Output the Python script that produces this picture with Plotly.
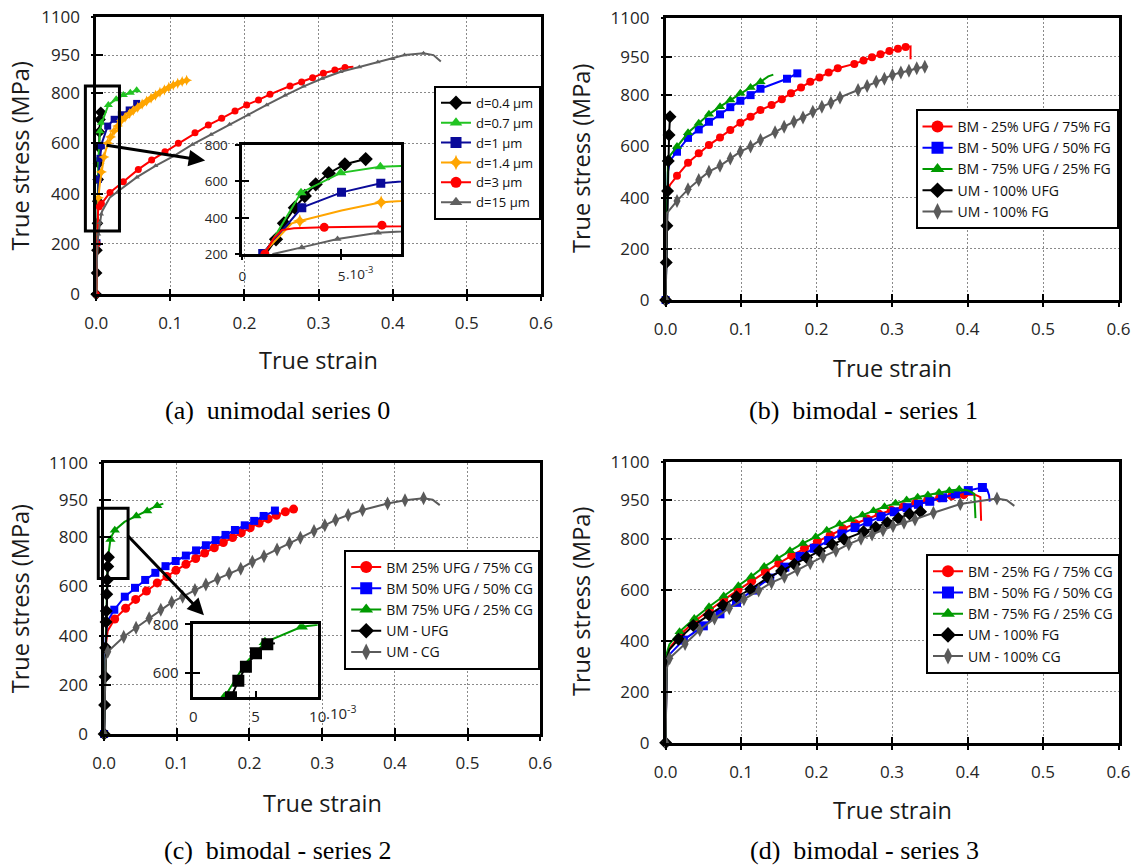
import plotly.graph_objects as go

W, H = 1134, 867
FONT = "Open Sans"
SERIF = "Liberation Serif"
TICK_COLOR = "#262626"

# ---------------------------------------------------------------- axes / ticks
STRAIN_TICKS = [0.0, 0.1, 0.2, 0.3, 0.4, 0.5, 0.6]
STRESS_TICKS = [0, 200, 400, 600, 800, 950, 1100]
STRAIN_RANGE = [0, 0.6]
STRESS_RANGE = [0, 1100]

INSET_A_X_TICKS = [0, 0.005]
INSET_A_X_TEXT = ["0", "5"]
INSET_A_Y_TICKS = [200, 400, 600, 800]
INSET_A_X_RANGE = [0, 0.008]
INSET_A_Y_RANGE = [200, 800]

INSET_C_X_TICKS = [0, 0.005, 0.01]
INSET_C_X_TEXT = ["0", "5", "10"]
INSET_C_Y_TICKS = [600, 800]
INSET_C_X_RANGE = [0, 0.01]
INSET_C_Y_RANGE = [500, 800]
SCALE_SUFFIX = ".10<sup>-3</sup>"

# ------------------------------------------------ (a) unimodal series 0
A_LABELS = ["d=0.4 μm", "d=0.7 μm", "d=1 μm", "d=1.4 μm", "d=3 μm", "d=15 μm"]
A04_STRAIN = [0, 0.0005, 0.001, 0.0017, 0.0021, 0.00265, 0.00315, 0.0037, 0.00436, 0.00517, 0.00622]
A04_STRESS = [0, 85, 175, 282, 370, 456, 520, 584, 645, 694, 723]
A04_MARKS = list(range(0, 11))

A07_STRAIN = [0, 0.0011, 0.00296, 0.00496, 0.00696, 0.008, 0.0164, 0.027, 0.0366, 0.046, 0.0546]
A07_STRESS = [0, 200, 538, 647, 681, 685, 752, 775, 791, 800, 810]
A07_MARKS = [2, 3, 4, 6, 7, 8, 9, 10]

A1_STRAIN = [0, 0.00103, 0.003, 0.005, 0.00698, 0.008, 0.0155, 0.0242, 0.0339, 0.0445, 0.0546]
A1_STRESS = [0, 205, 456, 540, 590, 604, 668, 695, 713, 732, 758]
A1_MARKS = [1, 2, 3, 4, 6, 7, 8, 9, 10]

A14_STRAIN = [0, 0.001, 0.0025, 0.0029, 0.005, 0.007, 0.008, 0.0105, 0.0155, 0.0195, 0.024, 0.029,
              0.034, 0.039, 0.045, 0.05, 0.056, 0.062, 0.068, 0.074, 0.08, 0.086, 0.092, 0.098,
              0.104, 0.11, 0.116, 0.122, 0.1244]
A14_STRESS = [0, 200, 370, 383, 440, 486, 493, 545, 600, 625, 648, 668, 690, 703, 718, 730, 742,
              755, 767, 779, 790, 802, 812, 822, 831, 838, 845, 850, 852]
A14_MARKS = [3, 5] + list(range(7, 28))

A3_STRAIN = [0, 0.00114, 0.0016, 0.002, 0.0026, 0.00413, 0.00704, 0.012, 0.0186, 0.0366, 0.0568,
             0.0748, 0.0928, 0.1108, 0.1333, 0.1513, 0.1693, 0.1873, 0.203, 0.219, 0.2345, 0.2615,
             0.2772, 0.292, 0.3065, 0.322, 0.3357, 0.347]
A3_STRESS = [0, 202, 290, 333, 343, 348, 360, 380, 404, 447, 496, 533, 566, 600, 642, 672, 699, 728,
             752, 772, 794, 827, 843, 860, 878, 891, 901, 904]
A3_MARKS = [0, 1, 5, 6] + list(range(8, 27))

A15_STRAIN = [0, 0.00156, 0.003, 0.0048, 0.00684, 0.008, 0.0186, 0.03, 0.055, 0.08, 0.105, 0.13,
              0.155, 0.18, 0.205, 0.23, 0.255, 0.28, 0.305, 0.33, 0.355, 0.38, 0.40, 0.416, 0.4416,
              0.455, 0.465]
A15_STRESS = [0, 202, 238, 284, 318, 330, 385, 410, 465, 510, 550, 595, 635, 675, 712, 752, 790,
              826, 857, 884, 903, 922, 935, 950, 957, 950, 924]
A15_MARKS = [2, 3, 4] + list(range(7, 25))

# ------------------------------------------------ (b) bimodal - series 1
B_LABELS = ["BM - 25% UFG / 75% FG", "BM - 50% UFG / 50% FG", "BM - 75% UFG / 25% FG",
            "UM - 100% UFG", "UM - 100% FG"]
B25_STRAIN = [0, 0.0012, 0.0022, 0.006, 0.0151, 0.0297, 0.0439, 0.0574, 0.0721, 0.0857, 0.099,
              0.1126, 0.1257, 0.1404, 0.154, 0.1661, 0.1794, 0.1916, 0.2038, 0.216, 0.2281, 0.25,
              0.2622, 0.2734, 0.2847, 0.2965, 0.3078, 0.318, 0.3245, 0.3245]
B25_STRESS = [0, 250, 420, 450, 485, 536, 573, 605, 635, 664, 692, 716, 742, 761, 784, 807, 830,
              852, 869, 888, 905, 922, 935, 948, 960, 972, 981, 988, 990, 940]
B25_MARKS = list(range(4, 28))

B50_STRAIN = [0, 0.0015, 0.003, 0.006, 0.0151, 0.0297, 0.0439, 0.0574, 0.0721, 0.0857, 0.099,
              0.1126, 0.1257, 0.1608, 0.1745]
B50_STRESS = [0, 300, 500, 545, 579, 633, 666, 696, 725, 753, 778, 800, 825, 864, 885]
B50_MARKS = [0] + list(range(4, 15))

B75_STRAIN = [0, 0.0015, 0.003, 0.006, 0.0151, 0.0297, 0.0439, 0.0574, 0.0721, 0.0857, 0.099,
              0.1126, 0.1257, 0.136, 0.1427]
B75_STRESS = [0, 300, 520, 565, 599, 653, 690, 725, 755, 781, 807, 830, 852, 873, 880]
B75_MARKS = list(range(4, 13))

BUFG_STRAIN = [0, 0.0009, 0.0017, 0.0026, 0.0035, 0.0046, 0.0058]
BUFG_STRESS = [0, 146, 290, 426, 543, 644, 716]
BUFG_MARKS = list(range(0, 7))

BFG_STRAIN = [0, 0.0015, 0.0151, 0.0297, 0.0439, 0.0574, 0.0721, 0.0857, 0.099, 0.1126, 0.1257,
              0.145, 0.157, 0.17, 0.182, 0.195, 0.207, 0.219, 0.231, 0.255, 0.267, 0.279, 0.2898,
              0.3005, 0.3117, 0.3224, 0.3327, 0.3434]
BFG_STRESS = [0, 338, 387, 432, 469, 501, 524, 553, 579, 599, 625, 655, 677, 696, 713, 735, 755,
              770, 791, 820, 836, 852, 864, 879, 888, 895, 905, 911]
BFG_MARKS = [0] + list(range(2, 28))

# ------------------------------------------------ (c) bimodal - series 2
C_LABELS = ["BM 25% UFG / 75% CG", "BM 50% UFG / 50% CG", "BM 75% UFG / 25% CG",
            "UM - UFG", "UM - CG"]
C25_STRAIN = [0, 0.0022, 0.005, 0.0146, 0.0296, 0.0434, 0.0583, 0.0731, 0.0864, 0.0988, 0.1126,
              0.126, 0.1383, 0.1516, 0.164, 0.1768, 0.1887, 0.201, 0.2133, 0.2257, 0.237, 0.2494,
              0.2607]
C25_STRESS = [0, 360, 420, 467, 511, 547, 581, 614, 640, 665, 690, 713, 735, 757, 778, 798, 818,
              838, 857, 874, 889, 903, 914]
C25_MARKS = list(range(3, 23))

C50_STRAIN = [0, 0.0022, 0.005, 0.014, 0.0285, 0.0425, 0.0565, 0.0705, 0.0845, 0.0985, 0.1125,
              0.1265, 0.14, 0.1535, 0.167, 0.18, 0.1935, 0.2065, 0.2195, 0.235]
C50_STRESS = [0, 400, 460, 505, 558, 594, 626, 655, 682, 703, 725, 746, 767, 788, 809, 829, 848,
              866, 886, 908]
C50_MARKS = [0] + list(range(3, 20))

C75_STRAIN = [0, 0.0025, 0.0042, 0.00576, 0.00871, 0.0105, 0.0147, 0.028, 0.0444, 0.0593, 0.0731,
              0.0815]
C75_STRESS = [0, 500, 640, 726, 790, 805, 828, 862, 886, 906, 928, 936]
C75_MARKS = [1, 3, 4, 6, 8, 9, 10]

CUFG_STRAIN = [0, 0.0007, 0.0014, 0.0021, 0.0027, 0.00303, 0.00362, 0.00423, 0.00504, 0.00595,
               0.00656]
CUFG_STRESS = [0, 118, 233, 350, 455, 500, 568, 626, 681, 718, 722]
CUFG_MARKS = list(range(0, 10))

CCG_STRAIN = [0, 0.002, 0.005, 0.027, 0.044, 0.062, 0.078, 0.093, 0.108, 0.125, 0.14, 0.156, 0.172,
              0.188, 0.204, 0.22, 0.238, 0.255, 0.27, 0.2888, 0.3037, 0.3185, 0.3358, 0.3555, 0.39,
              0.414, 0.4395, 0.452, 0.4618]
CCG_STRESS = [0, 300, 334, 395, 432, 470, 505, 535, 558, 585, 607, 630, 652, 672, 700, 722, 750,
              775, 797, 825, 848, 870, 890, 910, 937, 950, 958, 952, 930]
CCG_MARKS = [0] + list(range(2, 27))

# ------------------------------------------------ (d) bimodal - series 3
D_LABELS = ["BM - 25% FG / 75% CG", "BM - 50% FG / 50% CG", "BM - 75% FG / 25% CG",
            "UM - 100% FG", "UM - 100% CG"]
D25_STRAIN = [0, 0.0015, 0.005, 0.02, 0.039, 0.058, 0.077, 0.096, 0.114, 0.132, 0.15, 0.167, 0.184,
              0.201, 0.218, 0.235, 0.251, 0.267, 0.283, 0.299, 0.315, 0.331, 0.347, 0.363, 0.379,
              0.395, 0.41, 0.417, 0.418]
D25_STRESS = [0, 340, 370, 425, 477, 520, 560, 598, 633, 670, 703, 733, 762, 788, 813, 838, 858,
              877, 895, 911, 925, 938, 950, 960, 967, 972, 972, 962, 870]
D25_MARKS = list(range(3, 26))

D50_STRAIN = [0, 0.0015, 0.005, 0.0235, 0.05, 0.072, 0.094, 0.116, 0.138, 0.158, 0.178, 0.197,
              0.216, 0.2335, 0.251, 0.268, 0.2855, 0.303, 0.32, 0.335, 0.35, 0.367, 0.384, 0.401,
              0.4197, 0.426, 0.4285, 0.4294]
D50_STRESS = [0, 310, 345, 402, 458, 505, 550, 598, 645, 688, 730, 762, 792, 818, 843, 865, 886,
              905, 921, 934, 946, 960, 975, 988, 1000, 992, 970, 945]
D50_MARKS = list(range(3, 25))

D75_STRAIN = [0, 0.0015, 0.005, 0.0185, 0.038, 0.0575, 0.077, 0.0964, 0.1135, 0.1306, 0.1477,
              0.1648, 0.1818, 0.1989, 0.2135, 0.2305, 0.2452, 0.2607, 0.2754, 0.29, 0.3046, 0.3193,
              0.3339, 0.3475, 0.3622, 0.3759, 0.389, 0.401, 0.409, 0.4105]
D75_STRESS = [0, 350, 385, 435, 487, 533, 575, 615, 651, 690, 722, 752, 781, 807, 833, 857, 875,
              892, 909, 925, 938, 951, 962, 971, 980, 987, 993, 988, 975, 880]
D75_MARKS = list(range(3, 27))

DFG_STRAIN = [0, 0.0015, 0.005, 0.0171, 0.0366, 0.0575, 0.076, 0.094, 0.1126, 0.1355, 0.1536,
              0.1706, 0.1867, 0.2038, 0.2208, 0.2364, 0.2622, 0.2783, 0.2939, 0.3086, 0.3231, 0.3378]
DFG_STRESS = [0, 330, 365, 405, 459, 500, 539, 572, 601, 647, 673, 699, 726, 751, 777, 797, 827,
              844, 862, 879, 896, 905]
DFG_MARKS = [0] + list(range(3, 22))

DCG_STRAIN = [0, 0.0015, 0.0053, 0.0258, 0.0453, 0.0648, 0.0843, 0.1037, 0.1233, 0.1404, 0.1574,
              0.1745, 0.1916, 0.2085, 0.2256, 0.2427, 0.2589, 0.2735, 0.288, 0.3013, 0.3158,
              0.3304, 0.3548, 0.3904, 0.41, 0.439, 0.452, 0.462]
DCG_STRESS = [0, 290, 331, 387, 442, 487, 527, 562, 596, 627, 650, 677, 703, 729, 752, 778, 799,
              816, 833, 849, 862, 875, 901, 935, 944, 957, 950, 928]
DCG_MARKS = [0] + list(range(2, 24)) + [25]

# zoom boxes and arrows (data units of the main panels)
ZOOM_A = dict(x0=-0.0146, x1=0.0314, y0=251, y1=827)
ARROW_A = dict(tail=(0.012, 593), head=(0.147, 531))
ZOOM_C = dict(x0=-0.008, x1=0.033, y0=632, y1=917)
ARROW_C = dict(tail=(0.031, 811), head=(0.1374, 483))

CAPTIONS = ["(a)  unimodal series 0", "(b)  bimodal - series 1",
            "(c)  bimodal - series 2", "(d)  bimodal - series 3"]
X_TITLE = "True strain"
Y_TITLE = "True stress (MPa)"

# ---------------------------------------------------------------- styles
RED, BLUE, GREEN, BLACK, GRAY = "#ff0000", "#0000ff", "#009a00", "#000000", "#5a5a5a"


def ser(name, x, y, marks, color, symbol, size, isize=None):
    return dict(name=name, x=x, y=y, marks=marks, color=color, symbol=symbol, size=size,
                isize=isize or size + 2)


SERIES_A = [
    ser(A_LABELS[0], A04_STRAIN, A04_STRESS, A04_MARKS, BLACK, "diamond", 9, 11),
    ser(A_LABELS[1], A07_STRAIN, A07_STRESS, A07_MARKS, "#22c422", "triangle-up", 8, 10),
    ser(A_LABELS[2], A1_STRAIN, A1_STRESS, A1_MARKS, "#0a0a99", "square", 7, 9),
    ser(A_LABELS[3], A14_STRAIN, A14_STRESS, A14_MARKS, "#ffa500", "star-diamond", 8, 10),
    ser(A_LABELS[4], A3_STRAIN, A3_STRESS, A3_MARKS, RED, "circle", 7, 9),
    ser(A_LABELS[5], A15_STRAIN, A15_STRESS, A15_MARKS, "#606060", "triangle-up", 5, 7),
]
SERIES_B = [
    ser(B_LABELS[0], B25_STRAIN, B25_STRESS, B25_MARKS, RED, "circle", 8),
    ser(B_LABELS[1], B50_STRAIN, B50_STRESS, B50_MARKS, BLUE, "square", 8),
    ser(B_LABELS[2], B75_STRAIN, B75_STRESS, B75_MARKS, GREEN, "triangle-up", 9),
    ser(B_LABELS[3], BUFG_STRAIN, BUFG_STRESS, BUFG_MARKS, BLACK, "diamond", 10),
    ser(B_LABELS[4], BFG_STRAIN, BFG_STRESS, BFG_MARKS, GRAY, "diamond-tall", 10),
]
SERIES_C = [
    ser(C_LABELS[0], C25_STRAIN, C25_STRESS, C25_MARKS, RED, "circle", 9),
    ser(C_LABELS[1], C50_STRAIN, C50_STRESS, C50_MARKS, BLUE, "square", 8),
    ser(C_LABELS[2], C75_STRAIN, C75_STRESS, C75_MARKS, GREEN, "triangle-up", 9),
    ser(C_LABELS[3], CUFG_STRAIN, CUFG_STRESS, CUFG_MARKS, BLACK, "diamond", 10),
    ser(C_LABELS[4], CCG_STRAIN, CCG_STRESS, CCG_MARKS, GRAY, "diamond-tall", 10),
]
SERIES_D = [
    ser(D_LABELS[0], D25_STRAIN, D25_STRESS, D25_MARKS, RED, "circle", 9),
    ser(D_LABELS[1], D50_STRAIN, D50_STRESS, D50_MARKS, BLUE, "square", 9),
    ser(D_LABELS[2], D75_STRAIN, D75_STRESS, D75_MARKS, GREEN, "triangle-up", 9),
    ser(D_LABELS[3], DFG_STRAIN, DFG_STRESS, DFG_MARKS, BLACK, "diamond", 10),
    ser(D_LABELS[4], DCG_STRAIN, DCG_STRESS, DCG_MARKS, GRAY, "diamond-tall", 10),
]

# panel geometry in pixels: left, right, top, bottom of plot area
GEOM = {
    "a": (96.2, 540.9, 17.3, 294.3),
    "b": (665.6, 1118.5, 18.3, 300.0),
    "c": (104.1, 540.2, 463.3, 734.0),
    "d": (665.6, 1118.5, 462.0, 742.7),
    "ia": (242.3, 401.0, 145.0, 254.3),
    "ic": (193.3, 317.7, 624.3, 697.3),
}

fig = go.Figure()
layout = {}


def lk(axid):
    return ("xaxis" if axid[0] == "x" else "yaxis") + axid[1:]


def dom(g):
    l, r, t, b = g
    return [l / W, r / W], [1 - b / H, 1 - t / H]


BASE = dict(showline=True, linewidth=2.5, linecolor="black", mirror=True,
            ticks="inside", tickwidth=2, tickcolor="black", zeroline=False,
            fixedrange=True, automargin=False)


def set_axes(xid, yid, g, xr, yr, xt, yt, xtext, ytext, grid, fsize, xlen, ylen,
             xstand, ystand):
    xd, yd = dom(g)
    tf = dict(family=FONT, size=fsize, color=TICK_COLOR)
    gridkw = dict(showgrid=grid, gridcolor="#8a8a8a", gridwidth=1, griddash="2px,2px")
    layout[lk(xid)] = dict(BASE, **gridkw, domain=xd, anchor=yid, range=xr, tickmode="array",
                           tickvals=xt, ticktext=xtext, ticklen=xlen, tickfont=tf,
                           ticklabelstandoff=xstand)
    layout[lk(yid)] = dict(BASE, **gridkw, domain=yd, anchor=xid, range=yr, tickmode="array",
                           tickvals=yt, ticktext=ytext, ticklen=ylen, tickfont=tf,
                           ticklabelstandoff=ystand)


def set_overlay(bx, by, ox, oy, xr, yr, xt, yt, xlen, ylen):
    common = dict(ticks="outside", tickwidth=2, tickcolor="black", showticklabels=False,
                  showgrid=False, showline=False, zeroline=False, fixedrange=True,
                  tickmode="array", automargin=False)
    layout[lk(ox)] = dict(common, overlaying=bx, anchor=by, side="bottom", range=xr,
                          tickvals=xt, ticklen=xlen)
    layout[lk(oy)] = dict(common, overlaying=by, anchor=bx, side="left", range=yr,
                          tickvals=yt, ticklen=ylen)
    fig.add_trace(go.Scatter(x=[None], y=[None], xaxis=ox, yaxis=oy, showlegend=False,
                             hoverinfo="skip"))


def add_series(series, xa, ya, legend_id=None, inset=False, lsize=12):
    for s in series:
        fig.add_trace(go.Scatter(x=s["x"], y=s["y"], mode="lines",
                                 line=dict(color=s["color"], width=2),
                                 xaxis=xa, yaxis=ya, showlegend=False, hoverinfo="skip"))
        mx = [s["x"][i] for i in s["marks"]]
        my = [s["y"][i] for i in s["marks"]]
        fig.add_trace(go.Scatter(x=mx, y=my, mode="markers",
                                 marker=dict(symbol=s.get("isym", s["symbol"]) if inset else s["symbol"],
                                             size=s["isize"] if inset else s["size"],
                                             color=s["color"]),
                                 xaxis=xa, yaxis=ya, showlegend=False, hoverinfo="skip",
                                 cliponaxis=inset))
    if legend_id:
        for s in series:
            fig.add_trace(go.Scatter(x=[None], y=[None], mode="lines+markers", name=s["name"],
                                     line=dict(color=s["color"], width=2),
                                     marker=dict(symbol=s["symbol"], size=lsize, color=s["color"]),
                                     xaxis=xa, yaxis=ya, legend=legend_id, showlegend=True))


strain_text = [f"{v:.1f}" for v in STRAIN_TICKS]
stress_text = [str(v) for v in STRESS_TICKS]

MAIN = [("a", "x", "y", "x7", "y7", SERIES_A, "legend", 11),
        ("b", "x2", "y2", "x8", "y8", SERIES_B, "legend2", 12),
        ("c", "x3", "y3", "x9", "y9", SERIES_C, "legend3", 12),
        ("d", "x4", "y4", "x10", "y10", SERIES_D, "legend4", 12)]

for key, xa, ya, ox, oy, series, leg, lsize in MAIN:
    set_axes(xa, ya, GEOM[key], STRAIN_RANGE, STRESS_RANGE, STRAIN_TICKS, STRESS_TICKS,
             strain_text, stress_text, True, 17, 6, 7, 12, 10)
    set_overlay(xa, ya, ox, oy, STRAIN_RANGE, STRESS_RANGE, STRAIN_TICKS, STRESS_TICKS, 6, 4)
    add_series(series, xa, ya, leg, False, lsize)

# insets
set_axes("x5", "y5", GEOM["ia"], INSET_A_X_RANGE, INSET_A_Y_RANGE, INSET_A_X_TICKS,
         INSET_A_Y_TICKS, INSET_A_X_TEXT, [str(v) for v in INSET_A_Y_TICKS], False, 13.5,
         6, 7, 8, 9)
set_overlay("x5", "y5", "x11", "y11", INSET_A_X_RANGE, INSET_A_Y_RANGE, INSET_A_X_TICKS,
            INSET_A_Y_TICKS, 5, 6)
add_series(SERIES_A, "x5", "y5", None, True)

inset_c_series = [dict(SERIES_C[2]), dict(SERIES_C[3], isym="square")]
set_axes("x6", "y6", GEOM["ic"], INSET_C_X_RANGE, INSET_C_Y_RANGE, INSET_C_X_TICKS,
         INSET_C_Y_TICKS, INSET_C_X_TEXT, [str(v) for v in INSET_C_Y_TICKS], False, 15,
         7, 7, 4, 9)
set_overlay("x6", "y6", "x12", "y12", INSET_C_X_RANGE, INSET_C_Y_RANGE, INSET_C_X_TICKS,
            INSET_C_Y_TICKS, 1, 7)
add_series(inset_c_series, "x6", "y6", None, True)


# legends
def legend_cfg(right_px, center_py, size):
    return dict(x=right_px / W, y=1 - center_py / H, xanchor="right", yanchor="middle",
                bgcolor="white", bordercolor="black", borderwidth=2,
                font=dict(family=FONT, size=size, color="#111111"),
                itemclick=False, itemdoubleclick=False, tracegroupgap=0)


layout["legend"] = legend_cfg(541.0, 152.8, 13)
layout["legend2"] = legend_cfg(1118.5, 169.0, 14)
layout["legend3"] = legend_cfg(540.2, 609.5, 14)
layout["legend4"] = legend_cfg(1120.0, 613.7, 14)

# annotations: axis titles, captions, scale suffixes, arrows
ann = []
TITLE_POS = {"a": ((318.5, 360.0), (19.7, 155.8)),
             "b": ((892.0, 368.3), (581.0, 159.0)),
             "c": ((322.0, 803.3), (19.7, 598.6)),
             "d": ((892.0, 810.0), (581.0, 602.0))}
for k, ((xx, xy), (yx, yy)) in TITLE_POS.items():
    ann.append(dict(text=X_TITLE, x=xx / W, y=1 - xy / H, xref="paper", yref="paper",
                    showarrow=False, xanchor="center", yanchor="middle",
                    font=dict(family=FONT, size=23.5, color="#1a1a1a")))
    ann.append(dict(text=Y_TITLE, x=yx / W, y=1 - yy / H, xref="paper", yref="paper",
                    showarrow=False, xanchor="center", yanchor="middle", textangle=-90,
                    font=dict(family=FONT, size=23.5, color="#1a1a1a")))

CAPTION_POS = [(277.0, 410.0), (863.5, 410.0), (277.6, 850.0), (864.0, 850.0)]
for text, (cx, cy) in zip(CAPTIONS, CAPTION_POS):
    ann.append(dict(text=text, x=cx / W, y=1 - cy / H, xref="paper", yref="paper",
                    showarrow=False, xanchor="center", yanchor="middle", borderpad=0,
                    font=dict(family=SERIF, size=26, color="black")))

ann.append(dict(text=SCALE_SUFFIX, x=INSET_A_X_TICKS[1], xref="x5", y=0, yref="y5 domain",
                xanchor="left", yanchor="middle", xshift=3, yshift=-19, showarrow=False,
                font=dict(family=FONT, size=13.5, color=TICK_COLOR)))
ann.append(dict(text=SCALE_SUFFIX, x=INSET_C_X_TICKS[2], xref="x6", y=0, yref="y6 domain",
                xanchor="left", yanchor="middle", xshift=6, yshift=-15, showarrow=False,
                font=dict(family=FONT, size=15, color=TICK_COLOR)))

for arrow, xr, yr in ((ARROW_A, "x", "y"), (ARROW_C, "x3", "y3")):
    ann.append(dict(text="", x=arrow["head"][0], y=arrow["head"][1], xref=xr, yref=yr,
                    ax=arrow["tail"][0], ay=arrow["tail"][1], axref=xr, ayref=yr,
                    showarrow=True, arrowhead=2, arrowsize=1.1, arrowwidth=3,
                    arrowcolor="black", standoff=0))

shapes = []
for box, xr, yr in ((ZOOM_A, "x", "y"), (ZOOM_C, "x3", "y3")):
    shapes.append(dict(type="rect", xref=xr + " domain", yref=yr + " domain",
                       x0=(box["x0"] - STRAIN_RANGE[0]) / (STRAIN_RANGE[1] - STRAIN_RANGE[0]),
                       x1=(box["x1"] - STRAIN_RANGE[0]) / (STRAIN_RANGE[1] - STRAIN_RANGE[0]),
                       y0=(box["y0"] - STRESS_RANGE[0]) / (STRESS_RANGE[1] - STRESS_RANGE[0]),
                       y1=(box["y1"] - STRESS_RANGE[0]) / (STRESS_RANGE[1] - STRESS_RANGE[0]),
                       line=dict(color="black", width=3)))

fig.update_layout(width=W, height=H, autosize=False,
                  margin=dict(l=0, r=0, t=0, b=0, pad=0, autoexpand=False),
                  paper_bgcolor="white", plot_bgcolor="rgba(0,0,0,0)",
                  annotations=ann, shapes=shapes, hovermode=False, **layout)

# the page body gets no margin so the figure sits at the window's top-left corner
fig.write_html("out.html", config={"displayModeBar": False},
               post_script="document.body.style.margin='0';document.body.style.overflow='hidden';")
